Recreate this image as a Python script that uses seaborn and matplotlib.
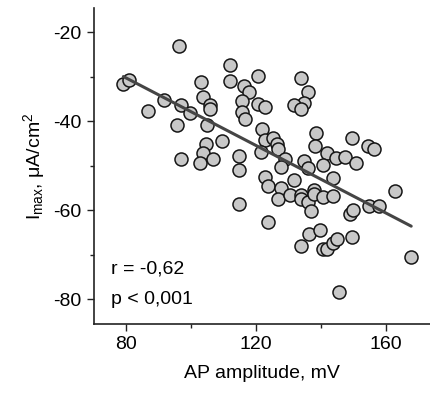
#Libraries
import numpy as np
import pandas as pd
import matplotlib.pyplot as plt
import seaborn as sns

#Data (AP amplitude in mV, Imax in uA/cm2)
ap_amplitude = [96.4, 79.2, 80.9, 91.8, 86.8, 96.9, 99.8, 95.8, 96.9, 103.0,
                103.8, 105.8, 106.0, 104.9, 109.7, 104.8, 103.8, 106.9, 102.9, 112.0,
                112.0, 116.5, 118.0, 120.8, 115.8, 120.7, 122.8, 115.9, 116.8, 121.8,
                122.8, 121.7, 114.9, 114.8, 122.8, 133.8, 136.1, 134.9, 131.8, 133.9,
                125.3, 126.6, 127.0, 129.0, 127.8, 134.9, 136.1, 138.5, 138.2, 141.8,
                140.8, 144.8, 147.5, 143.9, 150.9, 149.8, 154.7, 156.4, 131.8, 123.8,
                127.8, 126.9, 130.4, 133.9, 133.9, 136.0, 137.8, 137.9, 140.8, 143.9,
                136.9, 123.8, 114.9, 136.5, 139.8, 133.8, 140.8, 141.9, 143.9, 145.0,
                149.8, 148.9, 149.9, 154.8, 158.0, 162.8, 167.9, 145.8]
i_max = [-23.1, -31.7, -30.7, -35.3, -37.6, -36.2, -38.2, -40.8, -48.4, -31.1,
         -34.6, -36.4, -37.1, -40.9, -44.5, -45.0, -47.0, -48.5, -49.4, -27.3,
         -31.0, -32.1, -33.5, -29.8, -35.4, -36.0, -36.7, -37.8, -39.4, -41.6,
         -44.1, -46.8, -47.8, -51.0, -52.5, -30.3, -33.4, -35.9, -36.4, -37.1,
         -43.7, -45.1, -46.1, -48.4, -50.3, -48.8, -50.4, -42.6, -45.5, -47.2,
         -49.9, -48.3, -48.1, -52.8, -49.4, -43.8, -45.5, -46.2, -53.2, -54.5,
         -55.0, -57.5, -56.6, -56.5, -57.5, -58.0, -55.4, -56.3, -57.0, -56.8,
         -60.1, -62.6, -58.5, -65.2, -64.3, -67.9, -68.6, -68.7, -67.3, -66.4,
         -66.0, -60.8, -60.0, -58.9, -59.0, -55.6, -70.5, -78.3]
x_ticks = [80, 120, 160]
y_ticks = [-20, -40, -60, -80]
stats_text = ["r = -0,62", "p < 0,001"]

df = pd.DataFrame({"ap": ap_amplitude, "imax": i_max})

#Plot styling
sns.set_theme(style="ticks")
plt.rcParams["font.family"] = ["Liberation Sans", "DejaVu Sans"]
plt.rcParams["mathtext.fontset"] = "custom"
plt.rcParams["mathtext.rm"] = "Liberation Sans"
plt.rcParams["mathtext.it"] = "Liberation Sans:italic"
plt.rcParams["axes.unicode_minus"] = False
plt.rcParams["text.color"] = "black"
plt.rcParams["axes.labelcolor"] = "black"
plt.rcParams["xtick.color"] = "black"
plt.rcParams["ytick.color"] = "black"

fig = plt.figure(figsize=(4.31, 3.96), dpi=100)
ax = fig.add_axes([0.217, 0.182, 0.783, 0.798])

#Scatter points
sns.scatterplot(data=df, x="ap", y="imax", ax=ax, s=88, color="#c8c8c8",
                edgecolor="#151515", linewidth=1.1, zorder=2)

#Regression line
sns.regplot(data=df, x="ap", y="imax", ax=ax, scatter=False, ci=None,
            line_kws={"color": "#454545", "linewidth": 2.2, "zorder": 3})

#Axes
ax.set_xlim(70, 174)
ax.set_ylim(-85.5, -14.5)
ax.set_xticks(x_ticks)
ax.set_yticks(y_ticks)
ax.set_xticks([100, 140], minor=True)
ax.set_yticks([-30, -50, -70], minor=True)
ax.tick_params(which="major", length=5, width=1, labelsize=14, color="#222222", pad=4)
ax.tick_params(which="minor", length=3, width=1, color="#222222")
sns.despine(ax=ax)
for side in ["left", "bottom"]:
    ax.spines[side].set_color("#222222")
    ax.spines[side].set_linewidth(1.2)

ax.set_xlabel("AP amplitude, mV", fontsize=14, labelpad=8)
ax.set_ylabel(r"I$_{\rm max}$, μA/cm$^{2}$", fontsize=14, labelpad=4)

#Correlation text
ax.text(0.051, 0.158, stats_text[0], transform=ax.transAxes, fontsize=14, va="baseline")
ax.text(0.051, 0.062, stats_text[1], transform=ax.transAxes, fontsize=14, va="baseline")

plt.savefig("out.png", dpi=100)
